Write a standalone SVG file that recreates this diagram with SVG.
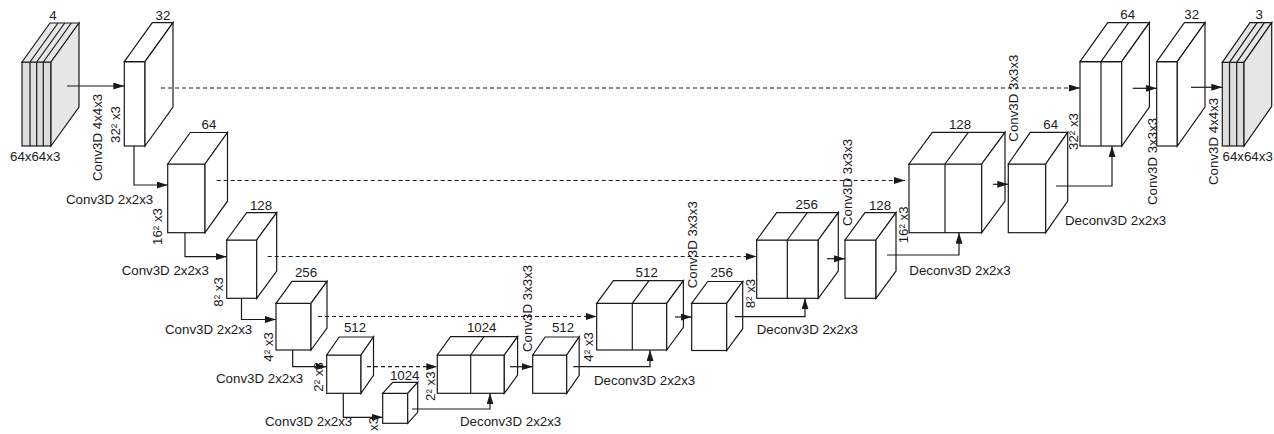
<svg xmlns="http://www.w3.org/2000/svg" width="1274" height="434" viewBox="0 0 1274 434">
<style>
  .b { fill: #fff; stroke: #1a1a1a; stroke-width: 1.2; stroke-linejoin: miter; }
  .sf { fill: #dcdcdc; stroke: #1a1a1a; stroke-width: 1.2; }
  .ss { fill: #e6e6e6; stroke: #1a1a1a; stroke-width: 1.2; }
  .d { fill: none; stroke: #1a1a1a; stroke-width: 1.2; }
  .c { fill: none; stroke: #1a1a1a; stroke-width: 1.2; marker-end: url(#ah); }
  .k { fill: none; stroke: #1a1a1a; stroke-width: 1.2; stroke-dasharray: 4 3; marker-end: url(#ah); }
  text { font-family: "Liberation Sans", Arial, sans-serif; font-size: 13.3px; fill: #1a1a1a; }
  .m { text-anchor: middle; }
</style>
<defs>
  <marker id="ah" markerUnits="userSpaceOnUse" markerWidth="12" markerHeight="8" refX="11" refY="3.5" orient="auto">
    <path d="M0,0 L11,3.5 L0,7 Z" fill="#1a1a1a"/>
  </marker>
</defs>
<rect width="1274" height="434" fill="#fff"/>

<g id="input">
  <rect class="sf" x="22" y="62" width="29" height="84"/>
  <path class="ss" d="M22,62 L50,23 L79,23 L51,62 Z"/>
  <path class="ss" d="M51,62 L79,23 L79,107 L51,146 Z"/>
  <path class="d" d="M30,62 V146 M30,62 l28,-39 M36.7,62 V146 M36.7,62 l28,-39 M43.3,62 V146 M43.3,62 l28,-39"/>
  <text class="m" x="53" y="19.5">4</text>
  <text x="10" y="161">64x64x3</text>
</g>

<g id="enc1">
  <rect class="b" x="124.3" y="61.7" width="20.7" height="84.3"/>
  <path class="b" d="M124.3,61.7 L152.3,22.7 L173,22.7 L145,61.7 Z"/>
  <path class="b" d="M145,61.7 L173,22.7 L173,107 L145,146 Z"/>
  <text class="m" x="163" y="19.5">32</text>
  <text transform="translate(102,181) rotate(-90)">Conv3D 4x4x3</text>
  <text transform="translate(120,143) rotate(-90)">32² x3</text>
</g>

<g id="enc2">
  <rect class="b" x="167.7" y="164" width="37.3" height="68.7"/>
  <path class="b" d="M167.7,164 L190.2,132.5 L227.5,132.5 L205,164 Z"/>
  <path class="b" d="M205,164 L227.5,132.5 L227.5,201.2 L205,232.7 Z"/>
  <text class="m" x="209" y="129">64</text>
  <text x="66" y="203.5">Conv3D 2x2x3</text>
  <text transform="translate(161.5,245) rotate(-90)">16² x3</text>
</g>

<g id="enc3">
  <rect class="b" x="226.7" y="240" width="30" height="58.3"/>
  <path class="b" d="M226.7,240 L246.7,212.7 L276.7,212.7 L256.7,240 Z"/>
  <path class="b" d="M256.7,240 L276.7,212.7 L276.7,271 L256.7,298.3 Z"/>
  <text class="m" x="261" y="209.5">128</text>
  <text x="121.7" y="275.3">Conv3D 2x2x3</text>
  <text transform="translate(223,306.7) rotate(-90)">8² x3</text>
</g>

<g id="enc4">
  <rect class="b" x="276" y="303.3" width="35" height="46.7"/>
  <path class="b" d="M276,303.3 L292,281.3 L327,281.3 L311,303.3 Z"/>
  <path class="b" d="M311,303.3 L327,281.3 L327,328 L311,350 Z"/>
  <text class="m" x="306" y="276.7">256</text>
  <text x="165" y="334">Conv3D 2x2x3</text>
  <text transform="translate(273,361.7) rotate(-90)">4² x3</text>
</g>

<g id="enc5">
  <rect class="b" x="326.7" y="355" width="34.3" height="38.3"/>
  <path class="b" d="M326.7,355 L339.2,337 L373.5,337 L361,355 Z"/>
  <path class="b" d="M361,355 L373.5,337 L373.5,375.3 L361,393.3 Z"/>
  <text class="m" x="355" y="331.7">512</text>
  <text x="216" y="383.3">Conv3D 2x2x3</text>
  <text transform="translate(323,391.7) rotate(-90)">2² x3</text>
</g>

<g id="enc6">
  <rect class="b" x="382.7" y="393.3" width="25" height="30"/>
  <path class="b" d="M382.7,393.3 L392.7,382.3 L417.7,382.3 L407.7,393.3 Z"/>
  <path class="b" d="M407.7,393.3 L417.7,382.3 L417.7,412.3 L407.7,423.3 Z"/>
  <text class="m" x="404.7" y="380">1024</text>
  <text x="265" y="425.7">Conv3D 2x2x3</text>
  <text transform="translate(378,446.5) rotate(-90)">1² x3</text>
</g>

<g id="dec1">
  <rect class="b" x="437.3" y="355" width="67" height="38.3"/>
  <path class="b" d="M437.3,355 L450.6,336.7 L517.6,336.7 L504.3,355 Z"/>
  <path class="b" d="M504.3,355 L517.6,336.7 L517.6,375 L504.3,393.3 Z"/>
  <path class="d" d="M470.7,355 V393.3 M470.7,355 L484,336.7"/>
  <text class="m" x="481.7" y="331.7">1024</text>
  <text transform="translate(435,401) rotate(-90)">2² x3</text>
  <text x="460" y="425.7">Deconv3D 2x2x3</text>
  <text transform="translate(531.5,352) rotate(-90)">Conv3D 3x3x3</text>
</g>

<g id="dec2">
  <rect class="b" x="532.7" y="355" width="34" height="38.3"/>
  <path class="b" d="M532.7,355 L545.2,337 L579.2,337 L566.7,355 Z"/>
  <path class="b" d="M566.7,355 L579.2,337 L579.2,375.3 L566.7,393.3 Z"/>
  <text class="m" x="563" y="331.7">512</text>
  <text transform="translate(593,361.7) rotate(-90)">4² x3</text>
  <text x="594" y="385">Deconv3D 2x2x3</text>
</g>

<g id="dec3">
  <rect class="b" x="596.7" y="303.3" width="70" height="46.7"/>
  <path class="b" d="M596.7,303.3 L613.4,280.7 L683.4,280.7 L666.7,303.3 Z"/>
  <path class="b" d="M666.7,303.3 L683.4,280.7 L683.4,327.4 L666.7,350 Z"/>
  <path class="d" d="M632.3,303.3 V350 M632.3,303.3 L649,280.7"/>
  <text class="m" x="646.7" y="276.7">512</text>
  <text transform="translate(697,288.3) rotate(-90)">Conv3D 3x3x3</text>
</g>

<g id="dec4">
  <rect class="b" x="691.7" y="303.3" width="35" height="47.2"/>
  <path class="b" d="M691.7,303.3 L707.7,281.5 L742.7,281.5 L726.7,303.3 Z"/>
  <path class="b" d="M726.7,303.3 L742.7,281.5 L742.7,328.7 L726.7,350.5 Z"/>
  <text class="m" x="721.7" y="276.7">256</text>
  <text transform="translate(755,308.3) rotate(-90)">8² x3</text>
  <text x="756.7" y="334">Deconv3D 2x2x3</text>
</g>

<g id="dec5">
  <rect class="b" x="756.7" y="240" width="61.6" height="58.3"/>
  <path class="b" d="M756.7,240 L776.7,212.7 L838.3,212.7 L818.3,240 Z"/>
  <path class="b" d="M818.3,240 L838.3,212.7 L838.3,271 L818.3,298.3 Z"/>
  <path class="d" d="M787.3,240 V298.3 M787.3,240 L807.3,212.7"/>
  <text class="m" x="806.7" y="209.3">256</text>
  <text transform="translate(851.5,226) rotate(-90)">Conv3D 3x3x3</text>
</g>

<g id="dec6">
  <rect class="b" x="845" y="240" width="31" height="58.3"/>
  <path class="b" d="M845,240 L865,212.7 L896,212.7 L876,240 Z"/>
  <path class="b" d="M876,240 L896,212.7 L896,271 L876,298.3 Z"/>
  <text class="m" x="880" y="210">128</text>
  <text transform="translate(908.3,243.3) rotate(-90)">16² x3</text>
  <text x="909.3" y="275">Deconv3D 2x2x3</text>
</g>

<g id="dec7">
  <rect class="b" x="909" y="164" width="72.7" height="68.7"/>
  <path class="b" d="M909,164 L932.3,132.3 L1005,132.3 L981.7,164 Z"/>
  <path class="b" d="M981.7,164 L1005,132.3 L1005,201 L981.7,232.7 Z"/>
  <path class="d" d="M945,164 V232.7 M945,164 L968.3,132.3"/>
  <text class="m" x="960" y="129">128</text>
  <text transform="translate(1018,141.7) rotate(-90)">Conv3D 3x3x3</text>
</g>

<g id="dec8">
  <rect class="b" x="1008.3" y="164" width="37.4" height="68.7"/>
  <path class="b" d="M1008.3,164 L1030.3,132.3 L1067.7,132.3 L1045.7,164 Z"/>
  <path class="b" d="M1045.7,164 L1067.7,132.3 L1067.7,201 L1045.7,232.7 Z"/>
  <text class="m" x="1050.7" y="129">64</text>
  <text transform="translate(1078.3,150) rotate(-90)">32² x3</text>
  <text x="1065" y="225">Deconv3D 2x2x3</text>
</g>

<g id="dec9">
  <rect class="b" x="1080" y="61.7" width="41.7" height="84.3"/>
  <path class="b" d="M1080,61.7 L1107.7,22.7 L1149.4,22.7 L1121.7,61.7 Z"/>
  <path class="b" d="M1121.7,61.7 L1149.4,22.7 L1149.4,107 L1121.7,146 Z"/>
  <path class="d" d="M1101,61.7 V146 M1101,61.7 L1128.7,22.7"/>
  <text class="m" x="1127.7" y="19.3">64</text>
  <text transform="translate(1156.7,205) rotate(-90)">Conv3D 3x3x3</text>
</g>

<g id="dec10">
  <rect class="b" x="1156.7" y="61.7" width="20.6" height="84.3"/>
  <path class="b" d="M1156.7,61.7 L1184.4,22.7 L1205,22.7 L1177.3,61.7 Z"/>
  <path class="b" d="M1177.3,61.7 L1205,22.7 L1205,107 L1177.3,146 Z"/>
  <text class="m" x="1191.7" y="19.3">32</text>
  <text transform="translate(1218.3,185) rotate(-90)">Conv3D 4x4x3</text>
</g>

<g id="output">
  <rect class="sf" x="1222.3" y="62.3" width="21.7" height="83.7"/>
  <path class="ss" d="M1222.3,62.3 L1250,22.7 L1271.7,22.7 L1244,62.3 Z"/>
  <path class="ss" d="M1244,62.3 L1271.7,22.7 L1271.7,106.4 L1244,146 Z"/>
  <path class="d" d="M1229.5,62.3 V146 M1229.5,62.3 l27.7,-39.6 M1236.7,62.3 V146 M1236.7,62.3 l27.7,-39.6"/>
  <text class="m" x="1259.3" y="19">3</text>
  <text x="1222.5" y="161">64x64x3</text>
</g>

<g id="connectors">
  <path class="c" d="M67,86 H124.3"/>
  <path class="c" d="M134,146 V185 H167.7"/>
  <path class="c" d="M185,232.7 V256.7 H226.7"/>
  <path class="c" d="M241.5,298.3 V319.5 H276"/>
  <path class="c" d="M292.7,350 V366.7 H326.7"/>
  <path class="c" d="M343.3,393.3 V417.3 H382.7"/>
  <path class="c" d="M412,409 H490 V393.3"/>
  <path class="c" d="M510,366.7 H532.7"/>
  <path class="c" d="M573.3,366.7 H650 V350"/>
  <path class="c" d="M675,317 H691.7"/>
  <path class="c" d="M735,316.7 H805 V298.3"/>
  <path class="c" d="M827,258.7 H845"/>
  <path class="c" d="M887,255 H959 V232.7"/>
  <path class="c" d="M993,184.3 H1008.3"/>
  <path class="c" d="M1056,186 H1112 V146"/>
  <path class="c" d="M1132.7,88.3 H1156.7"/>
  <path class="c" d="M1191,87.3 H1222.3"/>
  <path class="k" d="M161,88 H1080"/>
  <path class="k" d="M216.7,180.5 H905"/>
  <path class="k" d="M267.7,256.5 H756.7"/>
  <path class="k" d="M318,316.5 H596.7"/>
  <path class="k" d="M367,366.7 H437.3"/>
</g>
</svg>
